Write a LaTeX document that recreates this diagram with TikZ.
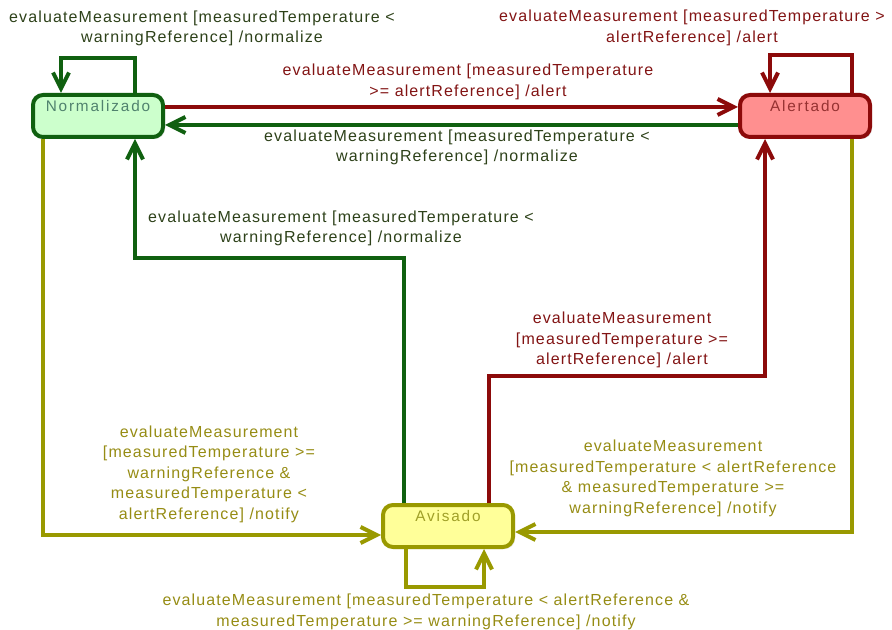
\documentclass[tikz,border=0pt]{standalone}
\usepackage{fontspec}
\setmainfont{Liberation Sans}
\newfontfamily\lblfont{Liberation Sans}[LetterSpace=7]
\newfontfamily\statefont{Liberation Sans}[LetterSpace=12]
\usetikzlibrary{arrows.meta,calc,shadows}

\definecolor{grnline}{RGB}{16,96,16}
\definecolor{redline}{RGB}{140,10,10}
\definecolor{olvline}{RGB}{153,153,0}
\definecolor{grnlbl}{RGB}{45,65,25}
\definecolor{redlbl}{RGB}{130,20,20}
\definecolor{olvlbl}{RGB}{150,140,20}
\definecolor{normfill}{RGB}{204,255,204}
\definecolor{normtext}{RGB}{80,130,110}
\definecolor{alertfill}{RGB}{255,143,143}
\definecolor{alerttext}{RGB}{150,50,50}
\definecolor{avisfill}{RGB}{255,255,153}
\definecolor{avistext}{RGB}{160,160,40}

\begin{document}
\begin{tikzpicture}[x=0.75pt, y=-0.75pt,
  lbl/.style={align=center, font=\lblfont\fontsize{12}{15.4}\selectfont},
  state/.style={draw, line width=3pt, rounded corners=7.5pt, minimum width=97.5pt,
    inner ysep=0pt, text height=12.5pt, text depth=19pt,
    font=\statefont\fontsize{11.5}{12}\selectfont,
    drop shadow={shadow xshift=1.5pt, shadow yshift=-1.5pt, fill=black!18}},
  trans/.style={line width=3pt, -{Straight Barb[length=12pt,width=12pt]}}]
  \useasboundingbox (0,0) rectangle (892,630);
  % states
  \node[state, fill=normfill, draw=grnline, text=normtext] (Normalizado) at (98,116) {Normalizado};
  \node[state, fill=alertfill, draw=redline, text=alerttext] (Alertado) at (805,116) {Alertado};
  \node[state, fill=avisfill, draw=olvline, text=avistext] (Avisado) at (448,526) {Avisado};
  % self transitions
  \draw[trans, grnline] ($(Normalizado.north west)+(104,0)$) -- ++(0,-35) -| ($(Normalizado.north west)+(30,0)$);
  \draw[trans, redline] ($(Alertado.north east)+(-20,0)$) -- ++(0,-38) -| ($(Alertado.north west)+(32,0)$);
  \draw[trans, olvline] ($(Avisado.south west)+(25,0)$) -- ++(0,38) -| ($(Avisado.south west)+(103,0)$);
  % Normalizado <-> Alertado
  \draw[trans, redline] ($(Normalizado.east)+(0,-9)$) -- ($(Alertado.west)+(0,-9)$);
  \draw[trans, grnline] ($(Alertado.west)+(0,9)$) -- ($(Normalizado.east)+(0,9)$);
  % from Avisado
  \draw[trans, grnline] ($(Avisado.north west)+(23,0)$) -- ++(0,-245) -| ($(Normalizado.south west)+(104,0)$);
  \draw[trans, redline] ($(Avisado.north west)+(108,0)$) -- ++(0,-127) -| ($(Alertado.south west)+(27,0)$);
  % into Avisado
  \draw[trans, olvline] ($(Normalizado.south west)+(12,0)$) |- ($(Avisado.west)+(0,9)$);
  \draw[trans, olvline] ($(Alertado.south east)+(-20,0)$) |- ($(Avisado.east)+(0,6)$);
  % guards
  \node[lbl, text=grnlbl] (lblNormLoop) at (202,28.5) {evaluateMeasurement [measuredTemperature <\\warningReference] /normalize};
  \node[lbl, text=redlbl] (lblAlertLoop) at (692,28) {evaluateMeasurement [measuredTemperature >\\alertReference] /alert};
  \node[lbl, text=redlbl] (lblNormAlert) at (468,82) {evaluateMeasurement [measuredTemperature\\>= alertReference] /alert};
  \node[lbl, text=grnlbl] (lblAlertNorm) at (457,147.5) {evaluateMeasurement [measuredTemperature <\\warningReference] /normalize};
  \node[lbl, text=grnlbl] (lblAvisNorm) at (341,228.5) {evaluateMeasurement [measuredTemperature <\\warningReference] /normalize};
  \node[lbl, text=redlbl] (lblAvisAlert) at (622,340) {evaluateMeasurement\\{[}measuredTemperature >=\\alertReference] /alert};
  \node[lbl, text=olvlbl] (lblNormAvis) at (209,474) {evaluateMeasurement\\{[}measuredTemperature >=\\warningReference \&\\measuredTemperature <\\alertReference] /notify};
  \node[lbl, text=olvlbl] (lblAlertAvis) at (673,478.5) {evaluateMeasurement\\{[}measuredTemperature < alertReference\\\& measuredTemperature >=\\warningReference] /notify};
  \node[lbl, text=olvlbl] (lblAvisLoop) at (426,612) {evaluateMeasurement [measuredTemperature < alertReference \&\\measuredTemperature >= warningReference] /notify};
\end{tikzpicture}
\end{document}
